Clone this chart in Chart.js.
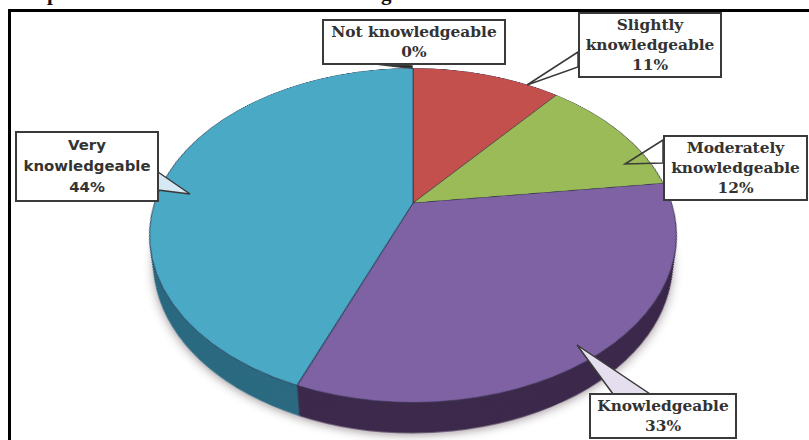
<!DOCTYPE html>
<html>
<head>
<meta charset="utf-8">
<title>Knowledge level</title>
<script src="https://cdn.jsdelivr.net/npm/chart.js@4/dist/chart.umd.min.js"></script>
<style>
    html, body { margin: 0; padding: 0; background: #fff; overflow: hidden; }
    #page { position: relative; width: 809px; height: 440px; overflow: hidden; }
    #frame { position: absolute; left: 8px; top: 9px; width: 820px; height: 450px; border: 3px solid #000; }
    .clipped { position: absolute; top: -18px; font: bold 21px/22px "Liberation Serif", serif; color: #111; }
    #pie {
        position: absolute; left: 143px; top: -67px;
        transform-origin: 270px 270px;
        transform: perspective(1044px) rotateX(51.5deg);
    }
    #tails { position: absolute; left: 0; top: 0; }
    .callout {
        position: absolute; box-sizing: border-box;
        display: flex; align-items: center; justify-content: center;
        background: #fff; border: 2px solid #3a3a3a; text-align: center; color: #333;
        font: bold 15.4px/20px "DejaVu Serif", serif;
    }
</style>
</head>
<body>
<div id="page">
    <div id="frame"></div>
    <span class="clipped" style="left:47px">p</span>
    <span class="clipped" style="left:381px">g</span>
    <canvas id="pie" width="540" height="580"></canvas>
    <svg id="tails" width="809" height="440"></svg>
</div>
<script>
const categories = ["Not knowledgeable", "Slightly knowledgeable", "Moderately knowledgeable", "Knowledgeable", "Very knowledgeable"];
const shares = [0, 11, 12, 33, 44];
const faceColors = ["#1f2d3a", "#c4504e", "#9bbb59", "#7f62a3", "#4aaac6"];
const wallColors = ["#111111", "#7a2f2d", "#5f7535", "#3d2a4c", "#2c6b80"];

// box: left, top, width, height; tail: polygon on the page
const callouts = [
    { box: [322, 19, 184, 46], tail: "367,63 412,66 412,68 400,67", fill: "#111", font: null },
    { box: [578, 12, 144, 66], tail: "578,52 527,85 578,67", fill: "none", font: null },
    { box: [663, 135, 145, 66], tail: "663,140 625,164 663,163", fill: "none", font: null },
    { box: [589, 393, 148, 46], tail: "613,394 577,345 650,394", fill: "#e4deee", font: null },
    { box: [15, 131, 144, 71], tail: "158,172 190,194 158,190", fill: "#d5e8f3", font: "bold 14.9px/21px 'DejaVu Sans', sans-serif" },
];

const WALL_DEPTH = 43;
const WALL_TAPER = 0.28;

// side of the disc: repeats every arc downwards, a little smaller each step,
// before the top face is drawn
const wallPlugin = {
    id: "wall",
    beforeDatasetsDraw(chart) {
        const ctx = chart.ctx;
        const arcs = chart.getDatasetMeta(0).data;
        for (let d = WALL_DEPTH; d > 0; d--) {
            arcs.forEach((arc, i) => {
                if (shares[i] === 0) return;
                ctx.save();
                if (d === WALL_DEPTH) {
                    ctx.shadowColor = "rgba(60,40,50,0.45)";
                    ctx.shadowBlur = 9;
                    ctx.shadowOffsetY = 2;
                }
                ctx.fillStyle = wallColors[i];
                ctx.beginPath();
                ctx.moveTo(arc.x, arc.y + d);
                ctx.arc(arc.x, arc.y + d, arc.outerRadius - d * WALL_TAPER, arc.startAngle, arc.endAngle);
                ctx.closePath();
                ctx.fill();
                ctx.restore();
            });
        }
    },
};

new Chart(document.getElementById("pie"), {
    type: "pie",
    data: {
        labels: categories,
        datasets: [{
            data: shares,
            backgroundColor: faceColors,
            borderColor: "rgba(45,45,70,0.75)",
            borderWidth: 1,
        }],
    },
    options: {
        responsive: false,
        animation: false,
        layout: { padding: { left: 11, right: 11, top: 11, bottom: 51 } },
        plugins: {
            legend: { display: false },
            tooltip: { enabled: false },
        },
    },
    plugins: [wallPlugin],
});

const page = document.getElementById("page");
const tails = document.getElementById("tails");

callouts.forEach((c, i) => {
    const poly = document.createElementNS("http://www.w3.org/2000/svg", "polygon");
    poly.setAttribute("points", c.tail);
    poly.setAttribute("fill", c.fill);
    poly.setAttribute("stroke", "#3a3a3a");
    poly.setAttribute("stroke-width", "1.5");
    tails.appendChild(poly);

    const el = document.createElement("div");
    el.className = "callout";
    el.style.left = c.box[0] + "px";
    el.style.top = c.box[1] + "px";
    el.style.width = c.box[2] + "px";
    el.style.height = c.box[3] + "px";
    if (c.font) el.style.font = c.font;
    const text = document.createElement("div");
    text.innerHTML = categories[i] + "<br>" + shares[i] + "%";
    el.appendChild(text);
    page.appendChild(el);
});
</script>
</body>
</html>
